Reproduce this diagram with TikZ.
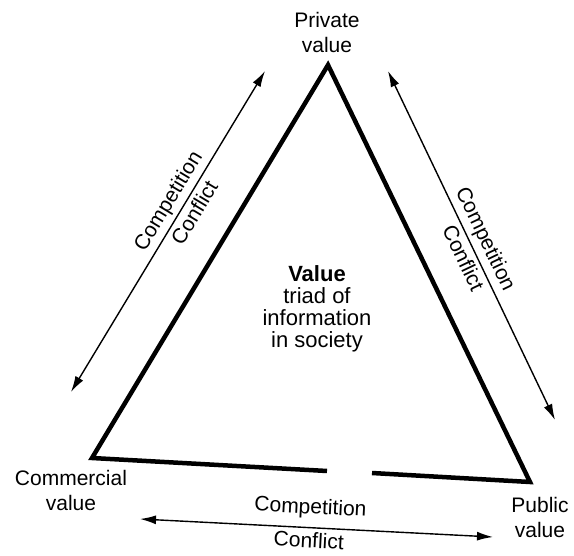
\documentclass[tikz,border=0pt]{standalone}
\usepackage{fontspec}
\setmainfont{Liberation Sans}
\usetikzlibrary{arrows.meta}
\begin{document}
\begin{tikzpicture}[x=1pt,y=-1pt,
  tri/.style={line width=4.5pt, line join=miter},
  dbl/.style={line width=1.4pt, {Latex[length=16pt,width=9pt]}-{Latex[length=16pt,width=9pt]}},
  vlabel/.style={font=\fontsize{21}{25}\selectfont, align=center, inner sep=0pt},
  rel/.style={font=\fontsize{21}{23}\selectfont, sloped, inner sep=4pt},
  centre/.style={font=\fontsize{22}{22}\selectfont, align=center, inner sep=0pt}]
\useasboundingbox (0,0) rectangle (574,556);
% triangle
\coordinate (apex) at (328,65);
\coordinate (bl) at (92,458);
\coordinate (br) at (530,482);
\coordinate (gapl) at (327,471);
\coordinate (gapr) at (372,473);
\draw[tri] (gapl) -- (bl) -- (apex) -- (br) -- (gapr);
% vertex labels
\node[vlabel] (private) at (327,32) {Private\\value};
\node[vlabel] (commercial) at (71,490) {Commercial\\value};
\node[vlabel] (public) at (540,517) {Public\\value};
\node[centre] (triad) at (317,309) {\textbf{Value}\\triad of\\information\\in society};
% arrows
\coordinate (la1) at (71,392);
\coordinate (la2) at (265,71);
\draw[dbl] (la1) -- node[rel, above, pos=0.57] (lcomp) {Competition}
                    node[rel, below, pos=0.58] (lconf) {Conflict} (la2);
\coordinate (ra1) at (388,71);
\coordinate (ra2) at (555,420);
\draw[dbl] (ra1) -- node[rel, above, pos=0.5] (rcomp) {Competition}
                    node[rel, below, pos=0.52] (rconf) {Conflict} (ra2);
\coordinate (ba1) at (140,519);
\coordinate (ba2) at (493,537);
\draw[dbl] (ba1) -- node[rel, above=5pt, pos=0.48] (bcomp) {Competition}
                    node[rel, below, pos=0.48] (bconf) {Conflict} (ba2);
\end{tikzpicture}
\end{document}
